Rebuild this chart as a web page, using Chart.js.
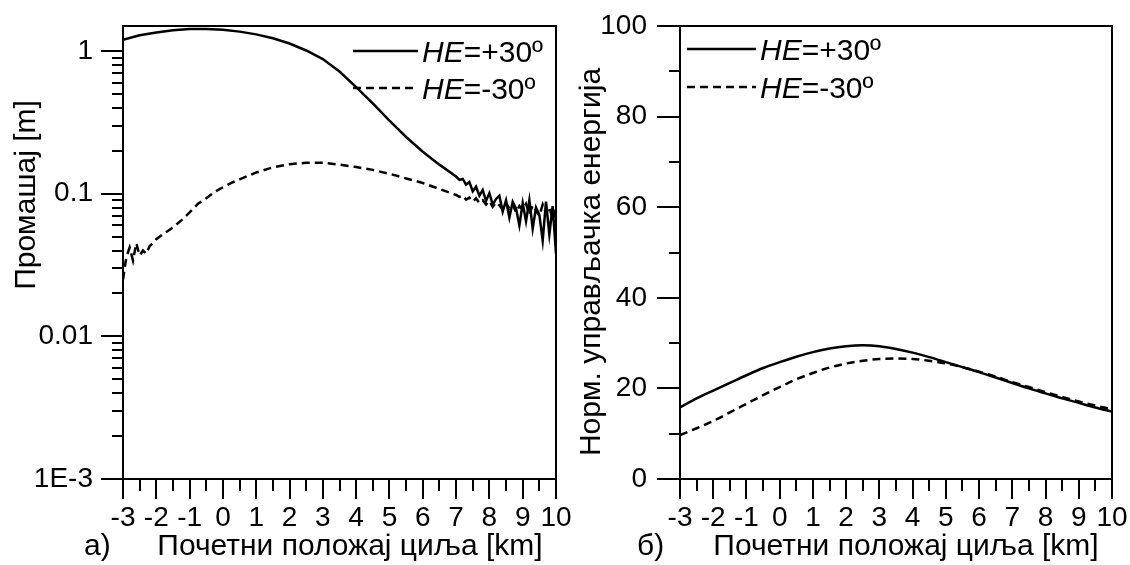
<!DOCTYPE html>
<html>
<head>
<meta charset="utf-8">
<script src="https://cdn.jsdelivr.net/npm/chart.js@4.4.1/dist/chart.umd.min.js"></script>
<style>
  body { margin: 0; background: #fff; }
  #wrap { position: relative; width: 1130px; height: 565px; overflow: hidden; }
  canvas { position: absolute; top: 0; }
  #missChart { left: 0; }
  #energyChart { left: 565px; }
</style>
</head>
<body>
<div id="wrap">
  <canvas id="missChart" width="600" height="565"></canvas>
  <canvas id="energyChart" width="565" height="565"></canvas>
</div>
<script>
// а) промашај [m], log axis
var missXPlus = [-3, -2.5, -2, -1.5, -1, -0.5, 0, 0.5, 1, 1.5, 2, 2.5, 3, 3.5, 4, 4.5, 5, 5.5, 6, 6.5,
  7, 7.1, 7.2, 7.3, 7.4, 7.5, 7.6, 7.7, 7.8, 7.9, 8, 8.1, 8.2, 8.3, 8.4, 8.5, 8.6, 8.7, 8.8, 8.9,
  9, 9.1, 9.2, 9.3, 9.4, 9.5, 9.6, 9.7, 9.8, 9.9, 10];
var missPlus = [1.20, 1.29, 1.35, 1.40, 1.43, 1.43, 1.41, 1.37, 1.31, 1.23, 1.13, 1.01, 0.88, 0.72, 0.56, 0.43, 0.325, 0.25, 0.197, 0.160,
  0.132, 0.125, 0.127, 0.116, 0.121, 0.104, 0.112, 0.097, 0.106, 0.089, 0.101, 0.084, 0.092, 0.097, 0.075, 0.090, 0.068, 0.088, 0.079, 0.060,
  0.086, 0.064, 0.090, 0.057, 0.080, 0.071, 0.047, 0.088, 0.052, 0.082, 0.038];
var missXMinus = [-3, -2.9, -2.8, -2.7, -2.6, -2.5, -2.4, -2.3, -2.2, -2.1, -2,
  -1.75, -1.5, -1.25, -1, -0.75, -0.5, -0.25, 0, 0.25, 0.5,
  1, 1.5, 2, 2.5, 3, 3.5, 4, 4.5, 5, 5.5, 6, 6.5, 7,
  7.1, 7.2, 7.3, 7.4, 7.5, 7.6, 7.7, 7.8, 7.9, 8, 8.1, 8.2, 8.3, 8.4, 8.5, 8.6, 8.7, 8.8, 8.9,
  9, 9.1, 9.2, 9.3, 9.4, 9.5, 9.6, 9.7, 9.8, 9.9, 10];
var missMinus = [0.025, 0.036, 0.042, 0.034, 0.045, 0.037, 0.040, 0.038, 0.043, 0.045, 0.048,
  0.053, 0.058, 0.065, 0.074, 0.085, 0.093, 0.103, 0.111, 0.119, 0.126,
  0.141, 0.153, 0.161, 0.165, 0.165, 0.160, 0.154, 0.147, 0.138, 0.128, 0.119, 0.108, 0.098,
  0.095, 0.097, 0.091, 0.094, 0.088, 0.093, 0.086, 0.090, 0.084, 0.089, 0.081, 0.087, 0.083, 0.077, 0.086, 0.079, 0.084, 0.074, 0.082,
  0.077, 0.085, 0.072, 0.083, 0.076, 0.070, 0.084, 0.073, 0.081, 0.066, 0.079];

// б) нормализована управљачка енергија
var energyX = [-3, -2.5, -2, -1.5, -1, -0.5, 0, 0.5, 1, 1.5, 2, 2.5, 3, 3.5, 4, 4.5, 5, 5.5, 6, 6.5, 7, 7.5, 8, 8.5, 9, 9.5, 10];
var energyPlus = [15.8, 17.8, 19.5, 21.2, 22.9, 24.5, 25.8, 27.0, 28.0, 28.8, 29.3, 29.5, 29.3, 28.7, 27.9, 26.9, 25.8, 24.7, 23.6, 22.4, 21.2, 20.0, 18.9, 17.8, 16.8, 15.8, 14.9];
var energyMinus = [9.7, 11.2, 12.8, 14.7, 16.6, 18.5, 20.3, 22.0, 23.4, 24.6, 25.5, 26.1, 26.5, 26.6, 26.5, 26.1, 25.5, 24.7, 23.7, 22.6, 21.4, 20.3, 19.2, 18.1, 17.1, 16.2, 15.4];

// ticks
var missTicks = [0.001, 0.01, 0.1, 1];
var missTickLabels = ['1E-3', '0.01', '0.1', '1'];
var missMinorTicks = [0.002, 0.003, 0.004, 0.005, 0.006, 0.007, 0.008, 0.009,
  0.02, 0.03, 0.04, 0.05, 0.06, 0.07, 0.08, 0.09,
  0.2, 0.3, 0.4, 0.5, 0.6, 0.7, 0.8, 0.9];
var energyMinorTicks = [10, 30, 50, 70, 90];
var kmMinorTicks = [-2.5, -1.5, -0.5, 0.5, 1.5, 2.5, 3.5, 4.5, 5.5, 6.5, 7.5, 8.5, 9.5];
var seriesLabels = ['HE=+30º', 'HE=-30º'];
var xTitle = 'Почетни положај циља [km]';

var FAMILY = '"Liberation Sans", Arial, sans-serif';
var TITLE_FONT = '30px ' + FAMILY;
var LEGEND_FONT = '30px ' + FAMILY;
Chart.defaults.font.family = FAMILY;
Chart.defaults.font.size = 28;
Chart.defaults.color = '#000';

function toPoints(xs, ys) {
  return xs.map(function(x, i) { return {x: x, y: ys[i]}; });
}

// frame, minor ticks, titles and the legend inside the plot
var panelDecor = {
  id: 'panelDecor',
  afterDraw: function(chart, args, opts) {
    var ctx = chart.ctx;
    var a = chart.chartArea;
    var xs = chart.scales.x, ys = chart.scales.y;
    ctx.save();
    ctx.strokeStyle = '#000';
    ctx.lineWidth = 2;
    ctx.strokeRect(a.left, a.top, a.right - a.left, a.bottom - a.top);

    ctx.beginPath();
    kmMinorTicks.forEach(function(v) {
      var px = Math.round(xs.getPixelForValue(v));
      ctx.moveTo(px, a.bottom);
      ctx.lineTo(px, a.bottom + 12);
    });
    opts.minorY.forEach(function(v) {
      var py = Math.round(ys.getPixelForValue(v));
      ctx.moveTo(a.left, py);
      ctx.lineTo(a.left - 11, py);
    });
    ctx.stroke();

    ctx.fillStyle = '#000';
    ctx.font = TITLE_FONT;
    ctx.textBaseline = 'alphabetic';
    ctx.textAlign = 'left';
    ctx.fillText(opts.panel, opts.panelX, 555);
    ctx.textAlign = 'center';
    ctx.fillText(xTitle, opts.xTitleX, 555);
    ctx.save();
    ctx.translate(opts.yTitleX, opts.yTitleY);
    ctx.rotate(-Math.PI / 2);
    ctx.fillText(opts.yTitle, 0, 0);
    ctx.restore();

    chart.data.datasets.forEach(function(ds, i) {
      var ly = opts.legendY[i];
      ctx.beginPath();
      ctx.setLineDash(ds.borderDash || []);
      ctx.lineWidth = ds.borderWidth;
      ctx.moveTo(opts.legendX0, ly);
      ctx.lineTo(opts.legendX1, ly);
      ctx.stroke();
      ctx.setLineDash([]);
      var tx = opts.legendX1 + 4;
      ctx.textAlign = 'left';
      ctx.font = 'italic ' + LEGEND_FONT;
      ctx.fillText(ds.label.slice(0, 2), tx, ly + 11);
      tx += ctx.measureText(ds.label.slice(0, 2)).width;
      ctx.font = LEGEND_FONT;
      ctx.fillText(ds.label.slice(2), tx, ly + 11);
    });
    ctx.restore();
  }
};

function xAxis() {
  return {
    type: 'linear',
    min: -3,
    max: 10,
    afterFit: function(s) { s.height = 86; s.paddingLeft = 0; s.paddingRight = 0; },
    border: { display: true, color: '#000', width: 2 },
    grid: { drawOnChartArea: false, color: '#000', lineWidth: 2, tickLength: 20 },
    ticks: {
      stepSize: 1, autoSkip: false, maxRotation: 0, minRotation: 0, padding: 2,
      callback: function(v) { return String(v); }
    }
  };
}

var lineStyle = { pointRadius: 0, borderColor: '#000', borderWidth: 2.5, fill: false };

new Chart(document.getElementById('missChart'), {
  type: 'line',
  data: {
    datasets: [
      Object.assign({ label: seriesLabels[0], data: toPoints(missXPlus, missPlus) }, lineStyle),
      Object.assign({ label: seriesLabels[1], data: toPoints(missXMinus, missMinus), borderDash: [8, 5] }, lineStyle)
    ]
  },
  options: {
    responsive: false,
    animation: false,
    devicePixelRatio: 1,
    layout: { padding: { top: 26, right: 44, bottom: 0, left: 0 } },
    plugins: {
      legend: { display: false },
      tooltip: { enabled: false },
      panelDecor: {
        panel: 'а)', panelX: 84, xTitleX: 350,
        yTitle: 'Промашај [m]', yTitleX: 35, yTitleY: 195,
        minorY: missMinorTicks,
        legendX0: 353, legendX1: 418, legendY: [51, 88]
      }
    },
    scales: {
      x: xAxis(),
      y: {
        type: 'logarithmic',
        min: 0.001,
        max: 1.5,
        afterFit: function(s) { s.width = 123; s.paddingTop = 0; s.paddingBottom = 0; },
        afterBuildTicks: function(s) { s.ticks = missTicks.map(function(v) { return {value: v}; }); },
        border: { display: true, color: '#000', width: 2 },
        grid: { drawOnChartArea: false, color: '#000', lineWidth: 2, tickLength: 22 },
        ticks: {
          padding: 8,
          callback: function(v) { var i = missTicks.indexOf(v); return i >= 0 ? missTickLabels[i] : ''; }
        }
      }
    }
  },
  plugins: [panelDecor]
});

new Chart(document.getElementById('energyChart'), {
  type: 'line',
  data: {
    datasets: [
      Object.assign({ label: seriesLabels[0], data: toPoints(energyX, energyPlus), cubicInterpolationMode: 'monotone' }, lineStyle),
      Object.assign({ label: seriesLabels[1], data: toPoints(energyX, energyMinus), cubicInterpolationMode: 'monotone', borderDash: [8, 5] }, lineStyle)
    ]
  },
  options: {
    responsive: false,
    animation: false,
    devicePixelRatio: 1,
    layout: { padding: { top: 26, right: 18, bottom: 0, left: 0 } },
    plugins: {
      legend: { display: false },
      tooltip: { enabled: false },
      panelDecor: {
        panel: 'б)', panelX: 72, xTitleX: 341,
        yTitle: 'Норм. управљачка енергија', yTitleX: 35, yTitleY: 262,
        minorY: energyMinorTicks,
        legendX0: 122, legendX1: 191, legendY: [49, 87]
      }
    },
    scales: {
      x: xAxis(),
      y: {
        type: 'linear',
        min: 0,
        max: 100,
        afterFit: function(s) { s.width = 115; s.paddingTop = 0; s.paddingBottom = 0; },
        border: { display: true, color: '#000', width: 2 },
        grid: { drawOnChartArea: false, color: '#000', lineWidth: 2, tickLength: 23 },
        ticks: { stepSize: 20, padding: 10 }
      }
    }
  },
  plugins: [panelDecor]
});
</script>
</body>
</html>
